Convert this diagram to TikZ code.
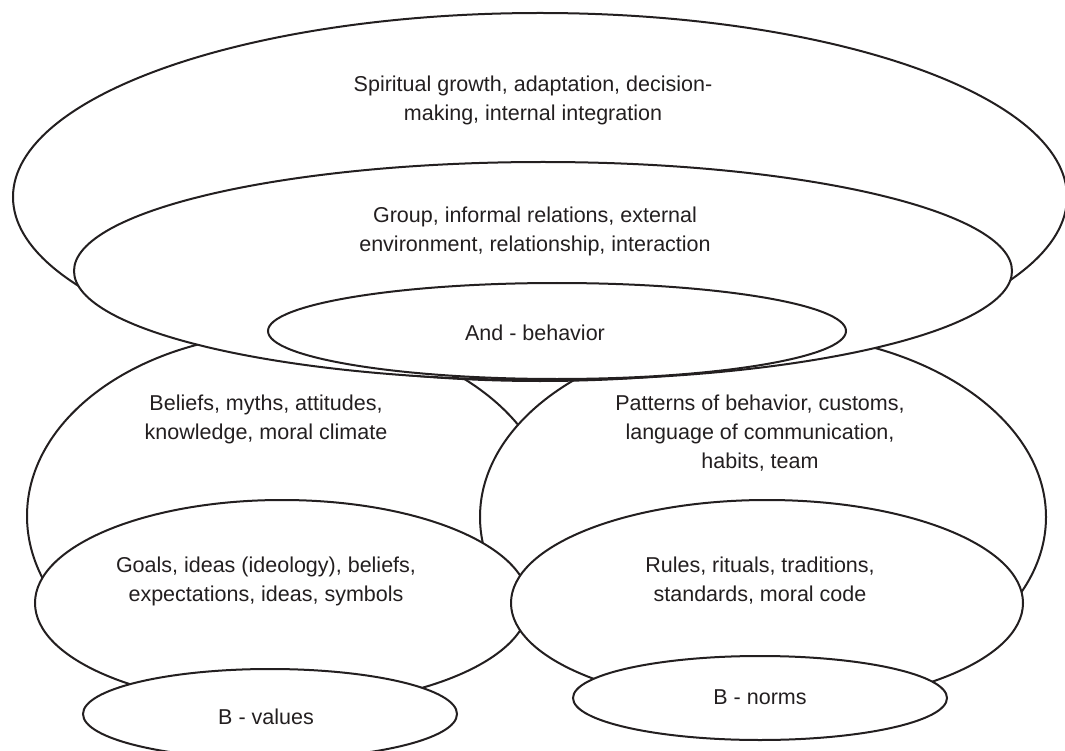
\documentclass[tikz,border=0pt]{standalone}
\usepackage{fontspec}
\setmainfont{Liberation Sans}
\usetikzlibrary{shapes.geometric}
\definecolor{ink}{HTML}{231F20}
\begin{document}
\begin{tikzpicture}[x=1pt,y=-1pt,
  oval/.style={ellipse, draw=ink, fill=white, line width=2pt, inner sep=0pt, outer sep=0pt},
  lbl/.style={align=center, text=ink, font=\fontsize{21.5}{29}\selectfont, inner sep=0pt}]
\useasboundingbox (0,0) rectangle (1065,751);
\clip (0,0) rectangle (1065,751);
% middle layer
\node[oval, minimum width=526pt, minimum height=366pt] (beliefs) at (290,516) {};
\node[oval, minimum width=566pt, minimum height=368pt] (patterns) at (763,517) {};
\node[oval, minimum width=494pt, minimum height=206pt] (goals) at (282,603) {};
\node[oval, minimum width=512pt, minimum height=206pt] (rules) at (767,603) {};
\node[oval, minimum width=374pt, minimum height=90pt] (bvalues) at (270,714) {};
\node[oval, minimum width=374pt, minimum height=84pt] (bnorms) at (760,698) {};
% top layer
\node[oval, minimum width=1054pt, minimum height=368pt] (outer) at (540,197) {};
\node[oval, minimum width=938pt, minimum height=218pt] (group) at (543,271) {};
\node[oval, minimum width=578pt, minimum height=96pt] (andb) at (557,331) {};
% labels
\node[lbl] (tspirit) at (533,100) {Spiritual growth, adaptation, decision-\\making, internal integration};
\node[lbl] (tgroup) at (535,231) {Group, informal relations, external\\environment, relationship, interaction};
\node[lbl] (tand) at (535,333) {And - behavior};
\node[lbl] (tbeliefs) at (266,419) {Beliefs, myths, attitudes,\\knowledge, moral climate};
\node[lbl] (tpatterns) at (760,433) {Patterns of behavior, customs,\\language of communication,\\habits, team};
\node[lbl] (tgoals) at (266,581) {Goals, ideas (ideology), beliefs,\\expectations, ideas, symbols};
\node[lbl] (trules) at (760,581) {Rules, rituals, traditions,\\standards, moral code};
\node[lbl] (tbvalues) at (266,717) {B - values};
\node[lbl] (tbnorms) at (760,697) {B - norms};
\end{tikzpicture}
\end{document}
